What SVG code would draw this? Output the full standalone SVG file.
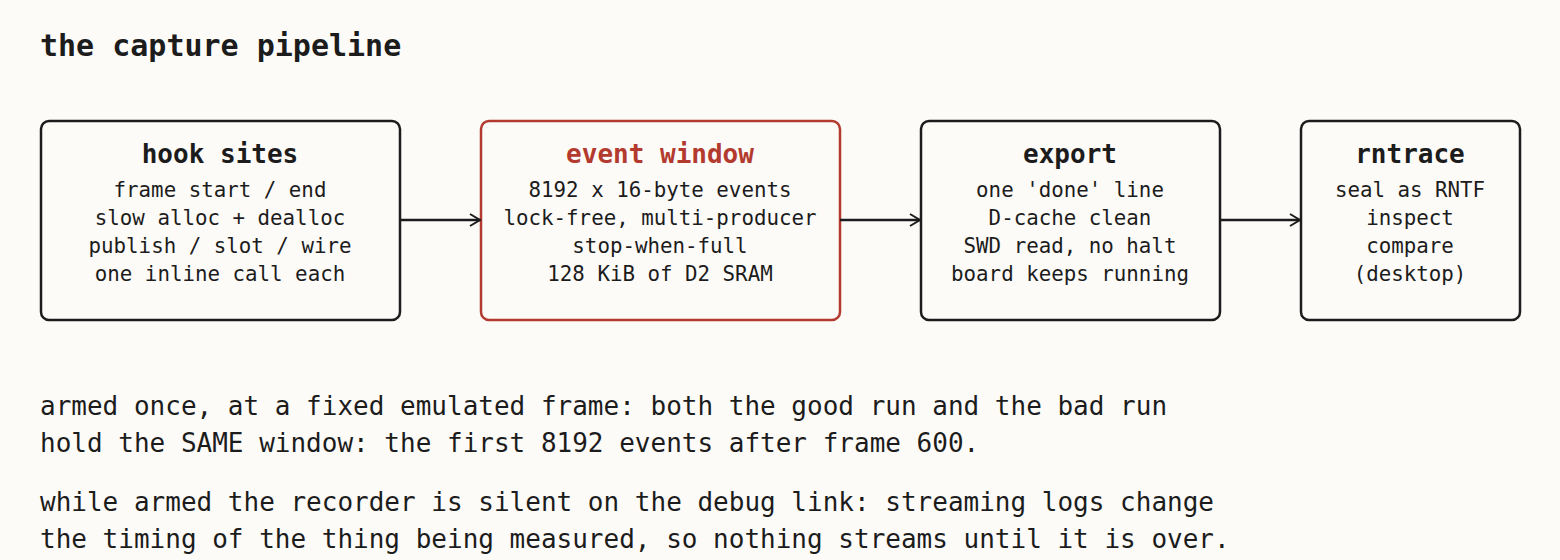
<svg xmlns="http://www.w3.org/2000/svg" width="1560" height="560" viewBox="0 0 1560 560">
<style>
text{font-family:"DejaVu Sans Mono","Liberation Mono",monospace;fill:#1c1c1c}
.box{fill:#fcfbf8;stroke:#1c1c1c;stroke-width:2.5}
.hot{stroke:#b33a2e}
.t{font-size:26px;font-weight:bold;text-anchor:middle}
.l{font-size:20.8px;text-anchor:middle}
.p{font-size:26px}
.c{stroke:#1c1c1c;stroke-width:2.5;fill:none}
</style>
<defs><marker id="a" markerWidth="14" markerHeight="14" refX="12" refY="7" orient="auto" markerUnits="userSpaceOnUse"><path d="M2,1 L12,7 L2,13" fill="none" stroke="#1c1c1c" stroke-width="2"/></marker></defs>
<rect width="1560" height="560" fill="#fcfbf8"/>
<text x="40" y="56" style="font-size:30px;font-weight:bold">the capture pipeline</text>
<g id="hook">
<rect class="box" x="41" y="121" width="359" height="199" rx="8"/>
<text class="t" x="220" y="163">hook sites</text>
<text class="l" x="220" y="197">frame start / end</text>
<text class="l" x="220" y="225">slow alloc + dealloc</text>
<text class="l" x="220" y="253">publish / slot / wire</text>
<text class="l" x="220" y="281">one inline call each</text>
</g>
<g id="window">
<rect class="box hot" x="481" y="121" width="359" height="199" rx="8"/>
<text class="t" x="660" y="163" style="fill:#b33a2e">event window</text>
<text class="l" x="660" y="197">8192 x 16-byte events</text>
<text class="l" x="660" y="225">lock-free, multi-producer</text>
<text class="l" x="660" y="253">stop-when-full</text>
<text class="l" x="660" y="281">128 KiB of D2 SRAM</text>
</g>
<g id="export">
<rect class="box" x="921" y="121" width="299" height="199" rx="8"/>
<text class="t" x="1070" y="163">export</text>
<text class="l" x="1070" y="197">one 'done' line</text>
<text class="l" x="1070" y="225">D-cache clean</text>
<text class="l" x="1070" y="253">SWD read, no halt</text>
<text class="l" x="1070" y="281">board keeps running</text>
</g>
<g id="rntrace">
<rect class="box" x="1301" y="121" width="219" height="199" rx="8"/>
<text class="t" x="1410" y="163">rntrace</text>
<text class="l" x="1410" y="197">seal as RNTF</text>
<text class="l" x="1410" y="225">inspect</text>
<text class="l" x="1410" y="253">compare</text>
<text class="l" x="1410" y="281">(desktop)</text>
</g>
<g id="connectors">
<path class="c" d="M400,220 H480" marker-end="url(#a)"/>
<path class="c" d="M840,220 H920" marker-end="url(#a)"/>
<path class="c" d="M1220,220 H1300" marker-end="url(#a)"/>
</g>
<text class="p" x="40" y="415">armed once, at a fixed emulated frame: both the good run and the bad run</text>
<text class="p" x="40" y="452">hold the SAME window: the first 8192 events after frame 600.</text>
<text class="p" x="40" y="511">while armed the recorder is silent on the debug link: streaming logs change</text>
<text class="p" x="40" y="548">the timing of the thing being measured, so nothing streams until it is over.</text>
</svg>
